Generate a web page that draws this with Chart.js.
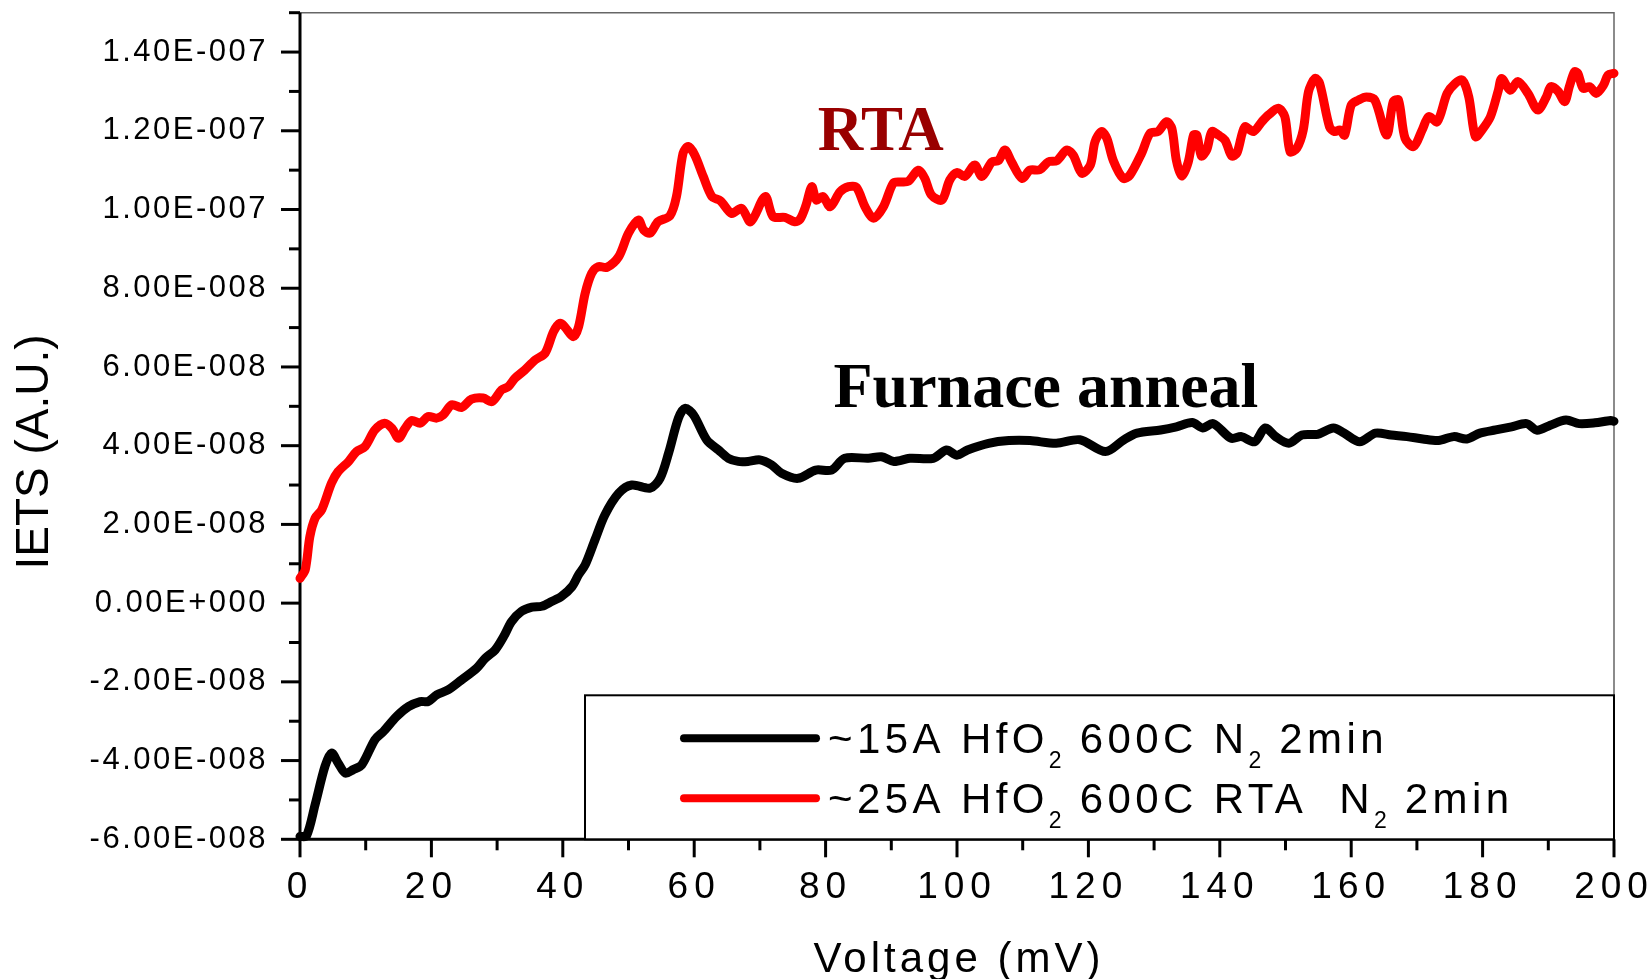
<!DOCTYPE html>
<html><head><meta charset="utf-8">
<script src="https://cdn.jsdelivr.net/npm/chart.js@4.4.1/dist/chart.umd.min.js"></script>
<style>html,body{margin:0;padding:0;background:#fff;} canvas{display:block;}</style>
</head><body>
<canvas id="c" width="1650" height="979"></canvas>
<script>
// ---- data (voltage in mV, IETS in units of 1e-8 A.U.) ----
const UNIT = 1e-8;
const furnaceV = [0,1.0,2.3,3.8,4.8,5.8,6.9,8.1,9.4,11.4,12.7,14.7,16.5,18.3,19.5,20.8,22.6,24.6,26.9,28.2,29.7,31.0,32.2,33.7,35.3,36.8,38.3,39.8,41.4,42.4,43.4,44.9,46.4,48.5,50.5,53.3,54.8,56.1,57.6,58.6,59.9,61.9,63.7,65.2,66.7,68.2,70.0,71.8,73.3,75.8,78.5,80.9,82.9,86.5,88.5,90.4,92.8,96.4,98.4,100.0,101.6,104.8,107.9,111.1,115.1,118.7,122.6,125.4,127.4,131.0,133.4,135.8,137.4,139.0,141.7,143.3,145.3,146.9,148.5,150.5,152.5,154.9,157.3,158.9,161.3,163.7,166.1,168.5,170.9,173.3,175.6,177.6,179.6,182.0,184.4,186.7,188.3,190.3,192.7,194.7,197.1,199.5,200.0];
const furnaceIETS = [-5.93,-5.91,-5.12,-4.15,-3.81,-4.06,-4.32,-4.23,-4.11,-3.47,-3.26,-2.88,-2.63,-2.50,-2.50,-2.33,-2.20,-1.95,-1.65,-1.40,-1.19,-0.85,-0.47,-0.21,-0.10,-0.08,0.04,0.17,0.42,0.72,0.97,1.61,2.24,2.79,3.00,2.92,3.17,3.81,4.70,4.95,4.78,4.15,3.89,3.68,3.60,3.60,3.64,3.51,3.30,3.17,3.38,3.38,3.68,3.68,3.72,3.60,3.68,3.68,3.89,3.76,3.89,4.06,4.13,4.13,4.06,4.15,3.85,4.15,4.32,4.40,4.48,4.59,4.45,4.56,4.19,4.23,4.10,4.45,4.23,4.06,4.27,4.29,4.45,4.32,4.10,4.32,4.27,4.23,4.17,4.13,4.23,4.17,4.32,4.40,4.48,4.56,4.39,4.52,4.65,4.56,4.58,4.64,4.62];
const rtaV = [0,0.8,1.5,2.3,3.3,4.8,5.8,7.4,8.6,9.9,11.4,12.9,14.0,15.0,16.0,17.0,18.3,19.5,20.8,21.8,23.1,24.6,26.1,27.9,29.2,30.7,31.7,32.7,34.2,35.8,37.3,38.6,39.6,40.3,41.6,42.4,43.4,44.4,45.4,46.7,48.5,50.0,51.5,52.3,53.3,54.5,56.3,57.3,58.3,59.1,60.1,61.4,62.7,64.0,65.7,67.2,68.6,70.8,72.0,73.8,75.3,76.1,77.0,77.9,78.6,79.6,80.7,82.2,83.5,84.7,86.0,87.3,88.8,90.3,91.3,92.6,94.1,95.1,96.1,97.7,98.9,100.0,101.2,102.7,103.8,105.3,106.3,107.3,108.3,109.9,111.1,112.6,113.9,115.2,116.7,117.7,119.0,120.3,121.0,122.0,122.8,123.8,125.3,126.3,128.1,129.4,130.6,131.9,132.7,133.4,134.2,135.2,136.0,136.5,137.2,138.0,138.8,139.8,140.8,141.8,142.6,143.8,145.1,146.4,147.4,148.9,149.9,150.7,151.7,152.7,153.5,154.5,155.2,156.7,157.5,158.3,159.0,160.0,161.1,162.3,163.6,165.4,166.4,167.2,168.2,169.5,170.8,171.8,173.1,174.6,175.8,176.9,177.9,178.9,179.9,181.2,182.4,182.9,184.2,185.4,186.9,188.4,189.7,190.4,191.5,192.5,193.2,194.0,194.5,195.3,196.3,197.3,198.4,199.1,200.0];
const rtaIETS = [0.63,0.85,1.69,2.16,2.37,3.05,3.34,3.60,3.85,3.98,4.40,4.57,4.44,4.19,4.44,4.64,4.57,4.74,4.70,4.78,5.04,4.97,5.18,5.21,5.12,5.42,5.50,5.71,5.92,6.18,6.35,6.90,7.11,7.02,6.77,7.02,7.87,8.38,8.55,8.53,8.80,9.40,9.73,9.48,9.40,9.69,9.84,10.33,11.43,11.60,11.38,10.83,10.33,10.22,9.90,10.03,9.69,10.33,9.82,9.80,9.69,9.75,10.10,10.58,10.24,10.33,10.07,10.45,10.58,10.56,10.07,9.78,10.07,10.67,10.70,10.72,11.00,10.79,10.37,10.24,10.75,10.94,10.84,11.13,10.84,11.21,11.24,11.51,11.21,10.79,11.00,11.01,11.21,11.24,11.51,11.38,10.92,11.13,11.72,11.98,11.81,11.24,10.79,10.87,11.43,11.94,11.98,12.23,12.06,11.24,10.85,11.21,11.89,11.89,11.36,11.51,11.98,11.89,11.76,11.36,11.43,12.10,11.98,12.23,12.40,12.57,12.36,11.47,11.55,12.02,12.99,13.33,13.20,12.10,11.98,12.02,11.89,12.65,12.78,12.86,12.78,11.89,12.74,12.78,11.81,11.60,12.02,12.36,12.23,12.95,13.20,13.29,12.86,11.85,12.02,12.36,13.03,13.33,13.03,13.25,12.95,12.53,12.86,13.12,13.00,12.74,13.12,13.50,13.46,13.08,13.12,12.95,13.16,13.42,13.46];
const seriesLabels = ['~15A HfO\u2082 600C N\u2082 2min', '~25A HfO\u2082 600C RTA  N\u2082 2min'];
const seriesColors = ['#000000', '#ff0000'];
const xTitle = 'Voltage (mV)';
const yTitle = 'IETS (A.U.)';
const xRange = [0, 200];
const yRange = [-6e-8, 1.5e-7];
const xTicks = [0, 20, 40, 60, 80, 100, 120, 140, 160, 180, 200];
const xMinorTicks = [10, 30, 50, 70, 90, 110, 130, 150, 170, 190];
const yTicks = [-6e-8, -4e-8, -2e-8, 0, 2e-8, 4e-8, 6e-8, 8e-8, 1.0e-7, 1.2e-7, 1.4e-7];
const yMinorTicks = [-5e-8, -3e-8, -1e-8, 1e-8, 3e-8, 5e-8, 7e-8, 9e-8, 1.1e-7, 1.3e-7, 1.5e-7];
const notes = [
  {text: 'RTA', x: 78.8, y: 11.5e-8, color: '#990000', size: 63},
  {text: 'Furnace anneal', x: 81.2, y: 4.99e-8, color: '#000000', size: 64}
];

const SANS = "'Liberation Sans', Arial, sans-serif";
const SERIF = "'Liberation Serif', 'Times New Roman', serif";

function fmtSci(v) {
  if (Math.abs(v) < 1e-15) return '0.00E+000';
  const [m, e] = v.toExponential(2).split('e');
  const n = parseInt(e, 10);
  return m + 'E' + (n < 0 ? '-' : '+') + String(Math.abs(n)).padStart(3, '0');
}

function toPts(xs, ys) { return xs.map((v, i) => ({x: v, y: ys[i] * UNIT})); }

function drawRich(ctx, text, x, baseY, size, spacing) {
  // draws text with '\u2082' rendered as a real subscript 2
  let cx = x;
  const parts = text.split(/(\u2082)/);
  for (const p of parts) {
    if (!p) continue;
    if (p === '\u2082') {
      ctx.font = Math.round(size * 0.55) + 'px ' + SANS;
      ctx.letterSpacing = '2px';
      ctx.fillText('2', cx, baseY + size * 0.36);
      cx += ctx.measureText('2').width;
    } else {
      ctx.font = size + 'px ' + SANS;
      ctx.letterSpacing = spacing + 'px';
      ctx.fillText(p, cx, baseY);
      cx += ctx.measureText(p).width;
    }
  }
  return cx;
}

const spacingPlugin = {
  id: 'spacing',
  beforeLayout(chart) {
    const sp = {x: '6px', y: '2.5px'};
    for (const id of ['x', 'y']) {
      const s = chart.scales[id];
      if (!s || s._spWrapped) continue;
      const orig = s.draw;
      s.draw = function (area) {
        const c = this.ctx; const prev = c.letterSpacing;
        c.letterSpacing = sp[id];
        orig.call(this, area);
        c.letterSpacing = prev;
      };
      s._spWrapped = true;
    }
  }
};

const framePlugin = {
  id: 'frame',
  beforeDatasetsDraw(chart) {
    const {ctx, chartArea: a, scales: {x, y}} = chart;
    ctx.save();
    // thin top/right frame
    ctx.strokeStyle = '#666'; ctx.lineWidth = 1.5;
    ctx.beginPath(); ctx.moveTo(a.left, a.top); ctx.lineTo(a.right, a.top); ctx.lineTo(a.right, a.bottom); ctx.stroke();
    // thick axes
    ctx.strokeStyle = '#000'; ctx.lineWidth = 3; ctx.lineCap = 'butt';
    ctx.beginPath(); ctx.moveTo(a.left, a.top); ctx.lineTo(a.left, a.bottom + 1.5); ctx.moveTo(a.left - 1.5, a.bottom); ctx.lineTo(a.right + 1, a.bottom); ctx.stroke();
    // y ticks (major + minor)
    yTicks.forEach(v => { const py = y.getPixelForValue(v); ctx.beginPath(); ctx.moveTo(a.left - 19, py); ctx.lineTo(a.left, py); ctx.stroke(); });
    yMinorTicks.forEach(v => { const py = y.getPixelForValue(v); ctx.beginPath(); ctx.moveTo(a.left - 11, py); ctx.lineTo(a.left, py); ctx.stroke(); });
    // x ticks
    xTicks.forEach(v => { const px = x.getPixelForValue(v); ctx.beginPath(); ctx.moveTo(px, a.bottom); ctx.lineTo(px, a.bottom + 18); ctx.stroke(); });
    xMinorTicks.forEach(v => { const px = x.getPixelForValue(v); ctx.beginPath(); ctx.moveTo(px, a.bottom); ctx.lineTo(px, a.bottom + 11); ctx.stroke(); });
    // legend box
    const bx = a.left + 285, by = a.bottom - 144;
    ctx.fillStyle = '#fff'; ctx.fillRect(bx, by, a.right - bx, a.bottom - by);
    ctx.strokeStyle = '#000'; ctx.lineWidth = 2;
    ctx.strokeRect(bx, by, a.right - bx, a.bottom - by);
    ctx.restore();
  },
  afterDraw(chart) {
    const {ctx, chartArea: a, scales: {x, y}} = chart;
    ctx.save();
    ctx.fillStyle = '#000';
    // legend entries
    const bx = a.left + 285, by = a.bottom - 144;
    chart.data.datasets.forEach((ds, i) => {
      const ly = by + 43 + i * 60;
      ctx.strokeStyle = ds.borderColor; ctx.lineWidth = 8; ctx.lineCap = 'round';
      ctx.beginPath(); ctx.moveTo(bx + 99, ly); ctx.lineTo(bx + 231, ly); ctx.stroke();
      ctx.fillStyle = '#000'; ctx.textAlign = 'left'; ctx.textBaseline = 'alphabetic';
      drawRich(ctx, ds.label, bx + 243, ly + 15, 42, 4.4);
    });
    // annotations in data coordinates
    notes.forEach(n => {
      ctx.font = 'bold ' + n.size + 'px ' + SERIF;
      ctx.letterSpacing = '0px';
      ctx.fillStyle = n.color; ctx.textAlign = 'left'; ctx.textBaseline = 'alphabetic';
      ctx.fillText(n.text, x.getPixelForValue(n.x), y.getPixelForValue(n.y));
    });
    // axis titles
    ctx.fillStyle = '#000';
    ctx.font = '42px ' + SANS; ctx.letterSpacing = '4px';
    ctx.textAlign = 'center'; ctx.textBaseline = 'alphabetic';
    ctx.fillText(xTitle, (a.left + a.right) / 2 + 2, 972);
    ctx.save();
    ctx.translate(48, (a.top + a.bottom) / 2 + 26);
    ctx.rotate(-Math.PI / 2);
    ctx.font = '46px ' + SANS; ctx.letterSpacing = '0px';
    ctx.fillText(yTitle, 0, 0);
    ctx.restore();
    ctx.restore();
  }
};

new Chart(document.getElementById('c'), {
  type: 'line',
  data: {
    datasets: [
      {label: seriesLabels[0], data: toPts(furnaceV, furnaceIETS), borderColor: seriesColors[0]},
      {label: seriesLabels[1], data: toPts(rtaV, rtaIETS), borderColor: seriesColors[1]}
    ]
  },
  options: {
    responsive: false, animation: false, devicePixelRatio: 1,
    layout: {padding: {top: 12.7, right: 36, bottom: 0, left: 0}, autoPadding: false},
    elements: {
      point: {radius: 0, hoverRadius: 0},
      line: {borderWidth: 9, tension: 0.3, borderJoinStyle: 'round', borderCapStyle: 'round', fill: false}
    },
    datasets: {line: {clip: false}},
    plugins: {legend: {display: false}, tooltip: {enabled: false}},
    scales: {
      x: {
        type: 'linear', min: xRange[0], max: xRange[1],
        grid: {display: false, drawTicks: false}, border: {display: false},
        ticks: {autoSkip: false, maxRotation: 0, padding: 26.5,
          color: '#000', font: {family: SANS, size: 37}, callback: v => String(v)},
        afterBuildTicks(s) { s.ticks = xTicks.map(v => ({value: v})); },
        afterFit(s) { s.height = 139.7; s.paddingLeft = 0; s.paddingRight = 0; }
      },
      y: {
        type: 'linear', min: yRange[0], max: yRange[1],
        grid: {display: false, drawTicks: false}, border: {display: false},
        ticks: {autoSkip: false, padding: 32,
          color: '#000', font: {family: SANS, size: 31}, callback: v => fmtSci(v)},
        afterBuildTicks(s) { s.ticks = yTicks.map(v => ({value: v})); },
        afterFit(s) { s.width = 300; s.paddingTop = 0; s.paddingBottom = 0; }
      }
    }
  },
  plugins: [spacingPlugin, framePlugin]
});
</script>
</body></html>
